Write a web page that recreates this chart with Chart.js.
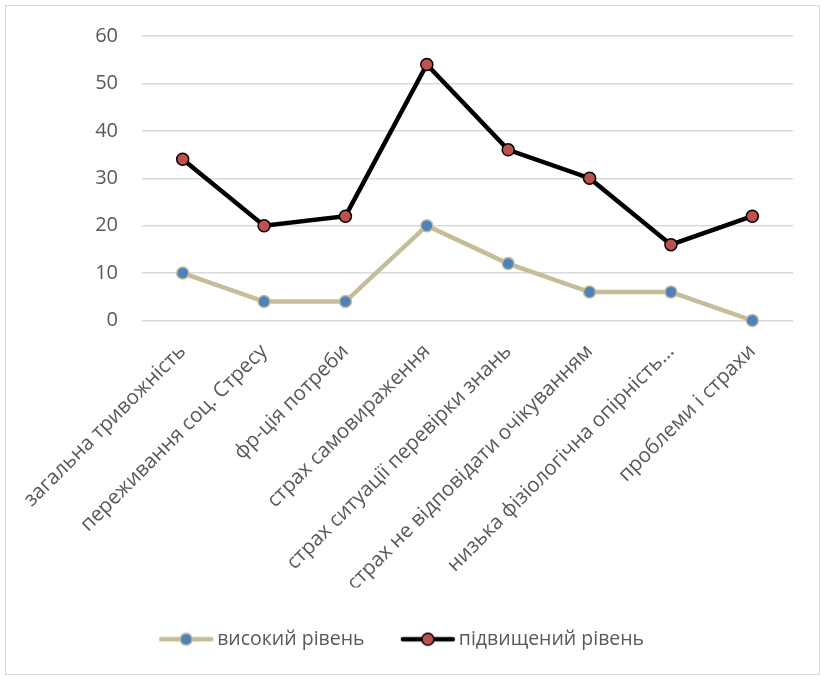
<!DOCTYPE html>
<html>
<head>
<meta charset="utf-8">
<script src="https://cdn.jsdelivr.net/npm/chart.js@4/dist/chart.umd.min.js"></script>
<style>
  html, body { margin: 0; padding: 0; background: #ffffff; }
  #wrap { position: relative; width: 822px; height: 677px; }
  #frame { position: absolute; left: 5px; top: 5px; width: 815px; height: 670px; border: 1.5px solid #d9d9d9; box-sizing: border-box; pointer-events: none; }
  canvas { position: absolute; left: 0; top: 0; }
</style>
</head>
<body>
<div id="wrap">
  <canvas id="chart" width="822" height="677"></canvas>
  <div id="frame"></div>
</div>
<script>
const categories = [
  'загальна тривожність',
  'переживання соц. Стресу',
  'фр-ція потреби',
  'страх самовираження',
  'страх ситуації перевірки знань',
  'страх не відповідати очікуванням',
  'низька фізіологічна опірність…',
  'проблеми і страхи'
];
const highLevel = [10, 4, 4, 20, 12, 6, 6, 0];
const elevatedLevel = [34, 20, 22, 54, 36, 30, 16, 22];
const seriesNames = ['високий рівень', 'підвищений рівень'];

const FONT = "'Open Sans', 'Noto Sans', sans-serif";
const TEXT = '#595959';

// Legend swatch: a short line segment with the marker in the middle
function swatch(lineColor, fill, edge) {
  const c = document.createElement('canvas');
  c.width = 56; c.height = 16;
  const g = c.getContext('2d');
  g.strokeStyle = lineColor;
  g.lineWidth = 4.5;
  g.lineCap = 'round';
  g.beginPath(); g.moveTo(3, 8); g.lineTo(53, 8); g.stroke();
  g.fillStyle = fill;
  g.strokeStyle = edge;
  g.lineWidth = 1.5;
  g.beginPath(); g.arc(28, 8, 6, 0, Math.PI * 2); g.fill(); g.stroke();
  return c;
}

const datasets = [
  {
    label: seriesNames[0],
    data: highLevel,
    borderColor: '#c4bd97',
    borderWidth: 4.5,
    pointBackgroundColor: '#4f81bd',
    pointBorderColor: '#c4bd97',
    pointBorderWidth: 1.5,
    pointRadius: 6,
    tension: 0,
    clip: false,
    legendSwatch: swatch('#c4bd97', '#4f81bd', '#c4bd97')
  },
  {
    label: seriesNames[1],
    data: elevatedLevel,
    borderColor: '#000000',
    borderWidth: 4.5,
    pointBackgroundColor: '#c0504d',
    pointBorderColor: '#000000',
    pointBorderWidth: 1.5,
    pointRadius: 6,
    tension: 0,
    clip: false,
    legendSwatch: swatch('#000000', '#c0504d', '#000000')
  }
];

new Chart(document.getElementById('chart'), {
  type: 'line',
  data: { labels: categories, datasets },
  options: {
    responsive: false,
    animation: false,
    layout: { padding: { left: 16, right: 29, top: 32, bottom: 18 } },
    plugins: {
      tooltip: { enabled: false },
      legend: {
        position: 'bottom',
        labels: {
          usePointStyle: true,
          pointStyleWidth: 42.5,
          padding: 42,
          color: TEXT,
          font: { family: FONT, size: 19.5 },
          generateLabels(chart) {
            return chart.data.datasets.map((ds, i) => ({
              text: ds.label,
              pointStyle: ds.legendSwatch,
              fillStyle: ds.pointBackgroundColor,
              strokeStyle: ds.borderColor,
              lineWidth: 0,
              hidden: false,
              datasetIndex: i,
              fontColor: TEXT
            }));
          }
        }
      }
    },
    scales: {
      x: {
        offset: true,
        grid: { display: false },
        border: { display: false },
        ticks: {
          autoSkip: false,
          minRotation: 45,
          maxRotation: 45,
          padding: 11,
          color: TEXT,
          font: { family: FONT, size: 20.5 }
        },
        afterFit(scale) { scale.height = 267; }
      },
      y: {
        min: 0,
        max: 60,
        grid: { color: '#d9d9d9', lineWidth: 1.5, drawTicks: false },
        border: { display: false },
        ticks: {
          stepSize: 10,
          padding: 24,
          color: TEXT,
          font: { family: FONT, size: 20 }
        },
        afterFit(scale) { scale.width = 126; }
      }
    }
  }
});
</script>
</body>
</html>
